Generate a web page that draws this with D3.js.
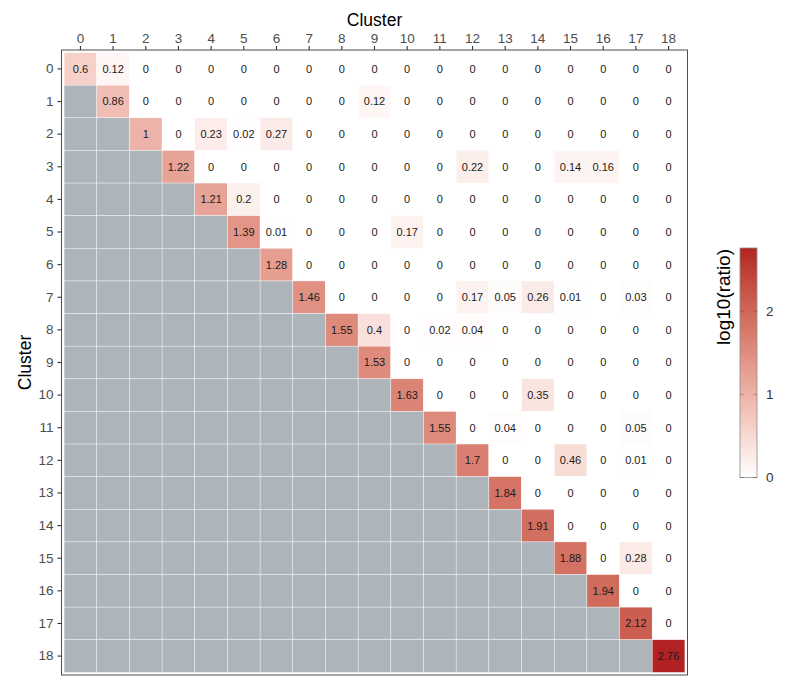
<!DOCTYPE html>
<html>
<head>
<meta charset="utf-8">
<script src="https://cdn.jsdelivr.net/npm/d3@7"></script>
<style>
  html, body { margin: 0; padding: 0; background: #fff; }
  svg { display: block; font-family: "Liberation Sans", Arial, Helvetica, sans-serif; }
</style>
</head>
<body>
<svg id="chart" width="800" height="685"></svg>
<script>
// ---- data ----
const clusters = d3.range(0, 19).map(String);
// log10(ratio); null = lower triangle (not shown, gray)
const ratio = [
  [0.6, 0.12, 0, 0, 0, 0, 0, 0, 0, 0, 0, 0, 0, 0, 0, 0, 0, 0, 0],
  [null, 0.86, 0, 0, 0, 0, 0, 0, 0, 0.12, 0, 0, 0, 0, 0, 0, 0, 0, 0],
  [null, null, 1, 0, 0.23, 0.02, 0.27, 0, 0, 0, 0, 0, 0, 0, 0, 0, 0, 0, 0],
  [null, null, null, 1.22, 0, 0, 0, 0, 0, 0, 0, 0, 0.22, 0, 0, 0.14, 0.16, 0, 0],
  [null, null, null, null, 1.21, 0.2, 0, 0, 0, 0, 0, 0, 0, 0, 0, 0, 0, 0, 0],
  [null, null, null, null, null, 1.39, 0.01, 0, 0, 0, 0.17, 0, 0, 0, 0, 0, 0, 0, 0],
  [null, null, null, null, null, null, 1.28, 0, 0, 0, 0, 0, 0, 0, 0, 0, 0, 0, 0],
  [null, null, null, null, null, null, null, 1.46, 0, 0, 0, 0, 0.17, 0.05, 0.26, 0.01, 0, 0.03, 0],
  [null, null, null, null, null, null, null, null, 1.55, 0.4, 0, 0.02, 0.04, 0, 0, 0, 0, 0, 0],
  [null, null, null, null, null, null, null, null, null, 1.53, 0, 0, 0, 0, 0, 0, 0, 0, 0],
  [null, null, null, null, null, null, null, null, null, null, 1.63, 0, 0, 0, 0.35, 0, 0, 0, 0],
  [null, null, null, null, null, null, null, null, null, null, null, 1.55, 0, 0.04, 0, 0, 0, 0.05, 0],
  [null, null, null, null, null, null, null, null, null, null, null, null, 1.7, 0, 0, 0.46, 0, 0.01, 0],
  [null, null, null, null, null, null, null, null, null, null, null, null, null, 1.84, 0, 0, 0, 0, 0],
  [null, null, null, null, null, null, null, null, null, null, null, null, null, null, 1.91, 0, 0, 0, 0],
  [null, null, null, null, null, null, null, null, null, null, null, null, null, null, null, 1.88, 0, 0.28, 0],
  [null, null, null, null, null, null, null, null, null, null, null, null, null, null, null, null, 1.94, 0, 0],
  [null, null, null, null, null, null, null, null, null, null, null, null, null, null, null, null, null, 2.12, 0],
  [null, null, null, null, null, null, null, null, null, null, null, null, null, null, null, null, null, null, 2.76]
];
const legendTicks = [0, 1, 2];
const axisTitle = "Cluster";
const legendTitle = "log10(ratio)";

// ---- layout ----
const svg = d3.select("#chart");
const panel = { x0: 61.5, x1: 687.5, y0: 50, y1: 675 };
const gap = 2.6;

const x = d3.scaleBand().domain(clusters).range([panel.x0 + gap, panel.x1 - gap]);
const y = d3.scaleBand().domain(clusters).range([panel.y0 + gap, panel.y1 - gap]);

const vmax = d3.max(ratio.flat().filter(v => v != null));
const color = d3.scaleLinear().domain([0, vmax]).range(["#ffffff", "#b22222"])
  .interpolate(d3.interpolateLab);
const naColor = "#adb4ba";

const cells = [];
ratio.forEach((row, i) => row.forEach((v, j) => cells.push({ r: clusters[i], c: clusters[j], v })));

// tiles
svg.append("g").selectAll("rect").data(cells).join("rect")
  .attr("x", d => x(d.c)).attr("y", d => y(d.r))
  .attr("width", x.bandwidth()).attr("height", y.bandwidth())
  .attr("fill", d => d.v == null ? naColor : color(d.v))
  .attr("stroke", "#ffffff").attr("stroke-width", 0.5).attr("stroke-opacity", 0.75);

// labels
svg.append("g").selectAll("text").data(cells.filter(d => d.v != null)).join("text")
  .attr("x", d => x(d.c) + x.bandwidth() / 2)
  .attr("y", d => y(d.r) + y.bandwidth() / 2)
  .attr("dy", "0.36em")
  .attr("text-anchor", "middle")
  .attr("font-size", 11)
  .attr("fill", "#1a1a1a")
  .text(d => String(d.v));

// panel border
svg.append("rect")
  .attr("x", panel.x0).attr("y", panel.y0)
  .attr("width", panel.x1 - panel.x0).attr("height", panel.y1 - panel.y0)
  .attr("fill", "none").attr("stroke", "#4d4d4d").attr("stroke-width", 1);

// axes
const xAxis = svg.append("g").attr("transform", `translate(0,${panel.y0})`)
  .call(d3.axisTop(x).tickSize(4).tickPadding(3));
const yAxis = svg.append("g").attr("transform", `translate(${panel.x0},0)`)
  .call(d3.axisLeft(y).tickSize(4).tickPadding(4));
[xAxis, yAxis].forEach(a => {
  a.select(".domain").remove();
  a.selectAll(".tick line").attr("stroke", "#333333").attr("stroke-width", 1.1);
  a.selectAll(".tick text").attr("fill", "#4d4d4d").attr("font-size", 13.5)
    .attr("font-family", "'Liberation Sans', Arial, sans-serif");
});

// axis titles
svg.append("text").attr("x", (panel.x0 + panel.x1) / 2).attr("y", 26)
  .attr("text-anchor", "middle").attr("font-size", 17.5).attr("fill", "#000")
  .text(axisTitle);
svg.append("text")
  .attr("transform", `translate(31,${(panel.y0 + panel.y1) / 2}) rotate(-90)`)
  .attr("text-anchor", "middle").attr("font-size", 17.5).attr("fill", "#000")
  .text(axisTitle);

// legend colorbar
const lg = { x: 740, w: 17, top: 248, bottom: 477.5 };
const ly = d3.scaleLinear().domain([0, vmax]).range([lg.bottom, lg.top]);
const defs = svg.append("defs");
const grad = defs.append("linearGradient").attr("id", "cbar")
  .attr("x1", 0).attr("y1", 1).attr("x2", 0).attr("y2", 0);
d3.range(0, 1.0001, 0.05).forEach(t => {
  grad.append("stop").attr("offset", t).attr("stop-color", color(t * vmax));
});
svg.append("rect").attr("x", lg.x).attr("y", lg.top)
  .attr("width", lg.w).attr("height", lg.bottom - lg.top)
  .attr("fill", "url(#cbar)").attr("stroke", "#8c8c8c").attr("stroke-width", 0.8);
const lt = svg.append("g");
legendTicks.forEach(t => {
  const yy = ly(t);
  lt.append("line").attr("x1", lg.x).attr("x2", lg.x + 3.5).attr("y1", yy).attr("y2", yy)
    .attr("stroke", "#7a3a34").attr("stroke-opacity", 0.6).attr("stroke-width", 0.8);
  lt.append("line").attr("x1", lg.x + lg.w - 3.5).attr("x2", lg.x + lg.w).attr("y1", yy).attr("y2", yy)
    .attr("stroke", "#7a3a34").attr("stroke-opacity", 0.6).attr("stroke-width", 0.8);
  lt.append("text").attr("x", lg.x + lg.w + 9).attr("y", yy).attr("dy", "0.36em")
    .attr("font-size", 13.5).attr("fill", "#333").text(t);
});
svg.append("text")
  .attr("transform", `translate(730,${lg.top + 1}) rotate(-90)`)
  .attr("text-anchor", "end").attr("font-size", 19).attr("fill", "#000")
  .text(legendTitle);
</script>
</body>
</html>
